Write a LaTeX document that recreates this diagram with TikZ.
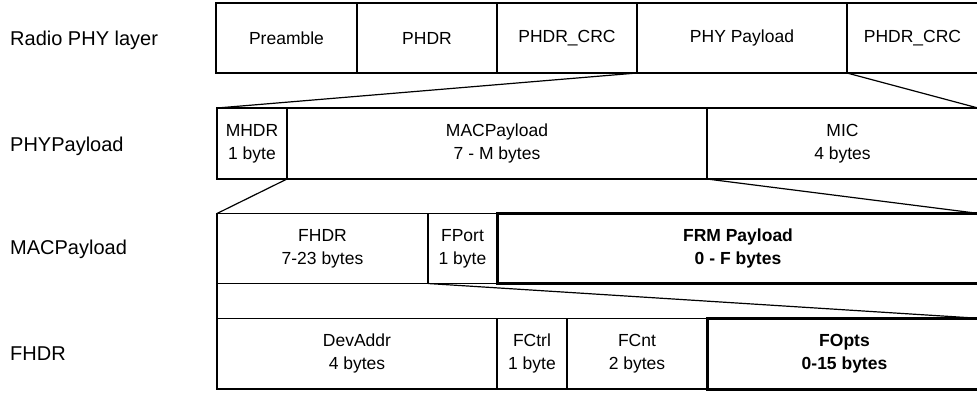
\documentclass[tikz,border=0pt]{standalone}
\usepackage{fontspec}
\setmainfont{Liberation Sans}
\begin{document}
\begin{tikzpicture}[x=1pt,y=-1pt,
  cell/.style={draw, line width=1.2pt, inner sep=0pt, outer sep=0pt, anchor=north west, align=center,
    font=\fontsize{17.5}{23}\selectfont},
  thickcell/.style={cell, line width=3pt, font=\fontsize{17.5}{23}\selectfont\bfseries},
  rowlabel/.style={anchor=base west, inner sep=0pt, font=\fontsize{20}{24}\selectfont},
  funnel/.style={line width=1.2pt}]
\useasboundingbox (0,0) rectangle (977,392);
\clip (0,0) rectangle (977,392);
% row labels
\node[rowlabel] (l1) at (10,45) {Radio PHY layer};
\node[rowlabel] (l2) at (10,151) {PHYPayload};
\node[rowlabel] (l3) at (10,254) {MACPayload};
\node[rowlabel] (l4) at (10,360) {FHDR};
% row 1
\begin{scope}[every node/.append style={minimum height=70pt}]
\node[cell, minimum width=141pt] (pre) at (216,3) {Preamble};
\node[cell, minimum width=140pt] (phdr) at (357,3) {PHDR};
\node[cell, minimum width=140pt] (crc1) at (497,3) {PHDR\_CRC};
\node[cell, minimum width=210pt] (phypay) at (637,3) {PHY Payload};
\node[cell, minimum width=131pt] (crc2) at (847,3) {PHDR\_CRC};
\end{scope}
% row 2
\begin{scope}[every node/.append style={minimum height=71pt}]
\node[cell, minimum width=70pt] (mhdr) at (217,108) {MHDR\\1 byte};
\node[cell, minimum width=420pt] (macpay) at (287,108) {MACPayload\\7 - M bytes};
\node[cell, minimum width=271pt] (mic) at (707,108) {MIC\\4 bytes};
\end{scope}
% row 3
\begin{scope}[every node/.append style={minimum height=70pt}]
\node[cell, minimum width=211pt] (fhdr) at (217,213.5) {FHDR\\7-23 bytes};
\node[cell, minimum width=69pt] (fport) at (428,213.5) {FPort\\1 byte};
\node[thickcell, minimum width=482pt] (frm) at (497,213.5) {FRM Payload\\0 - F bytes};
\end{scope}
% row 4
\begin{scope}[every node/.append style={minimum height=70.5pt}]
\node[cell, minimum width=280pt] (devaddr) at (217,318.5) {DevAddr\\4 bytes};
\node[cell, minimum width=70pt] (fctrl) at (497,318.5) {FCtrl\\1 byte};
\node[cell, minimum width=140pt] (fcnt) at (567,318.5) {FCnt\\2 bytes};
\node[thickcell, minimum width=275pt] (fopts) at (707,318.5) {FOpts\\0-15 bytes};
\end{scope}
% expansion lines
\draw[funnel] (phypay.south west) -- (mhdr.north west);
\draw[funnel] (phypay.south east) -- (mic.north east);
\draw[funnel] (macpay.south west) -- (fhdr.north west);
\draw[funnel] (macpay.south east) -- (frm.north east);
\draw[funnel] (fhdr.south west) -- (devaddr.north west);
\draw[funnel] (fhdr.south east) -- (fopts.north east);
\end{tikzpicture}
\end{document}
